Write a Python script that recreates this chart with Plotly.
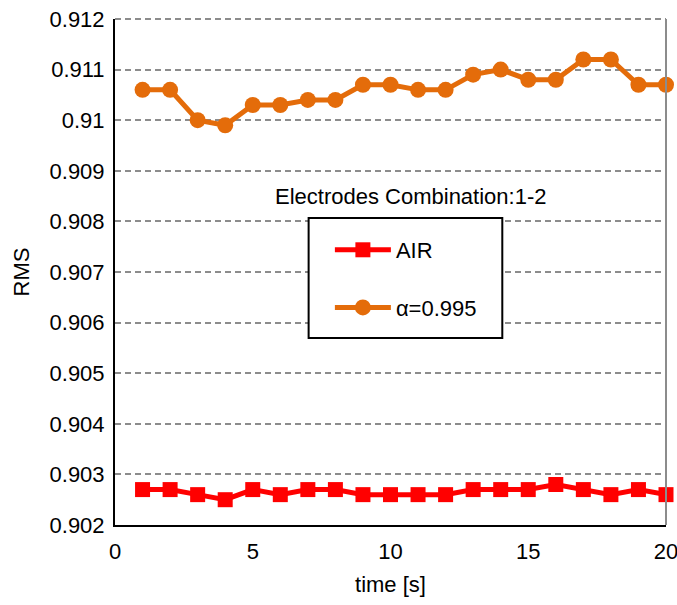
import plotly.graph_objects as go

time_s = list(range(1, 21))
air = [0.9027, 0.9027, 0.9026, 0.9025, 0.9027, 0.9026, 0.9027, 0.9027, 0.9026, 0.9026,
       0.9026, 0.9026, 0.9027, 0.9027, 0.9027, 0.9028, 0.9027, 0.9026, 0.9027, 0.9026]
alpha995 = [0.9106, 0.9106, 0.9100, 0.9099, 0.9103, 0.9103, 0.9104, 0.9104, 0.9107, 0.9107,
            0.9106, 0.9106, 0.9109, 0.9110, 0.9108, 0.9108, 0.9112, 0.9112, 0.9107, 0.9107]
y_ticks = [0.902, 0.903, 0.904, 0.905, 0.906, 0.907, 0.908, 0.909, 0.910, 0.911, 0.912]
y_tick_labels = ["0.902", "0.903", "0.904", "0.905", "0.906", "0.907", "0.908", "0.909", "0.91", "0.911", "0.912"]
x_ticks = [0, 5, 10, 15, 20]

FONT = "Liberation Sans, Arial, sans-serif"
FS = 22
GRID = "#8c8c8c"

fig = go.Figure()
fig.add_trace(go.Scatter(
    x=time_s, y=air, name="AIR", mode="lines+markers", legendgroup="air",
    line=dict(color="#FF0000", width=5),
    marker=dict(symbol="square", size=15, color="#FF0000"),
    cliponaxis=False,
))
fig.add_trace(go.Scatter(
    x=time_s, y=alpha995, name="α=0.995", mode="lines+markers", legendgroup="alpha",
    line=dict(color="#E46C0A", width=5),
    marker=dict(symbol="circle", size=16, color="#E46C0A"),
    cliponaxis=False,
))

fig.update_layout(
    width=677, height=605,
    margin=dict(l=115, r=11, t=19, b=80, autoexpand=False),
    paper_bgcolor="white", plot_bgcolor="white",
    font=dict(family=FONT, size=FS, color="black"),
    showlegend=True,
    legend=dict(
        x=0.39, y=0.585, xanchor="left", yanchor="top",
        bgcolor="rgba(0,0,0,0)", borderwidth=0,
        font=dict(size=FS), itemwidth=56, tracegroupgap=26,
    ),
    xaxis=dict(
        range=[0, 20], tickvals=x_ticks, showgrid=False, zeroline=False,
        showline=True, linecolor="black", linewidth=2, mirror=False,
        ticks="", automargin=False, ticklabelstandoff=6, ticklabeloverflow="allow",
        title=dict(text="time [s]", font=dict(size=FS), standoff=13),
        tickfont=dict(size=FS),
    ),
    yaxis=dict(
        range=[0.902, 0.912], tickvals=y_ticks, ticktext=y_tick_labels,
        showgrid=True, gridcolor=GRID, griddash="6px,4px", gridwidth=2,
        zeroline=False, showline=True, linecolor="black", linewidth=2,
        ticks="", automargin=False, ticklabelstandoff=4, ticklabeloverflow="allow",
        title=dict(text="RMS", font=dict(size=FS), standoff=14),
        tickfont=dict(size=FS),
    ),
    shapes=[
        dict(type="line", xref="paper", yref="paper", x0=1, x1=1, y0=0, y1=1,
             line=dict(color=GRID, width=2)),
        dict(type="line", xref="paper", yref="paper", x0=0, x1=1, y0=1, y1=1,
             layer="below", line=dict(color=GRID, width=2, dash="6px,4px")),
        dict(type="rect", xref="paper", yref="paper", x0=0.3514, x1=0.7029,
             y0=0.3696, y1=0.6067, layer="above",
             fillcolor="white", line=dict(color="black", width=2)),
    ],
    annotations=[
        dict(text="Electrodes Combination:1-2", xref="paper", yref="paper",
             x=0.536, y=0.650, xanchor="center", yanchor="middle",
             showarrow=False, font=dict(size=FS)),
    ],
)

fig.write_html(
    "out.html",
    config={"displayModeBar": False},
    post_script="document.body.style.margin='0';document.body.style.overflow='hidden';",
)
